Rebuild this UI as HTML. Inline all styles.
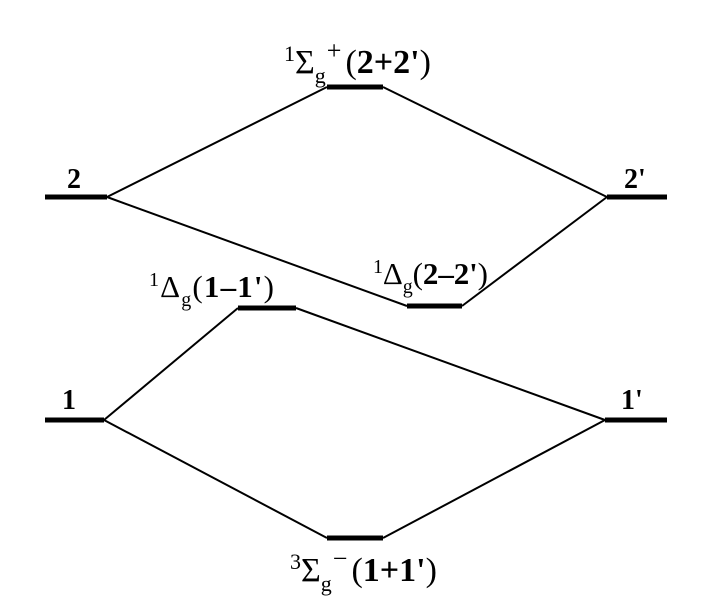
<!DOCTYPE html>
<html><head><meta charset="utf-8"><style>
html,body{margin:0;padding:0;background:#fff;}
svg{display:block;}
text{font-family:"Liberation Serif",serif;font-size:28px;fill:#000;}
.l{font-size:31px;}
.L{font-size:34px;}
.b{font-weight:bold;}
.s{font-size:20px;}
.S{font-size:22px;}
.P{font-size:26px;}
</style></head><body>
<svg width="712" height="613" viewBox="0 0 712 613" xmlns="http://www.w3.org/2000/svg">
<g stroke="#000" stroke-width="2" fill="none">
<line x1="107" y1="197" x2="327" y2="87"/>
<line x1="383" y1="87" x2="607" y2="197"/>
<line x1="107" y1="197" x2="407" y2="306"/>
<line x1="462" y1="306" x2="607" y2="197"/>
<line x1="104" y1="420" x2="238" y2="308"/>
<line x1="296" y1="308" x2="605" y2="420"/>
<line x1="104" y1="420" x2="327" y2="538"/>
<line x1="383" y1="538" x2="605" y2="420"/>
</g>
<g stroke="#000" stroke-width="5">
<line x1="45" y1="197" x2="107" y2="197"/>
<line x1="607" y1="197" x2="667" y2="197"/>
<line x1="327" y1="87" x2="383" y2="87"/>
<line x1="407" y1="306" x2="462" y2="306"/>
<line x1="238" y1="308" x2="296" y2="308"/>
<line x1="45" y1="420" x2="104" y2="420"/>
<line x1="605" y1="420" x2="667" y2="420"/>
<line x1="327" y1="538" x2="383" y2="538"/>
</g>
<text class="b" x="67" y="188">2</text>
<text class="b" x="624" y="188">2'</text>
<text class="b" x="62" y="409">1</text>
<text class="b" x="621" y="409">1'</text>
<text class="L" x="284" y="73"><tspan class="S" dy="-12">1</tspan><tspan dy="12">Σ</tspan><tspan class="S" dy="10">g</tspan><tspan class="P" dy="-24" dx="1">+</tspan><tspan dy="14" dx="4">(</tspan><tspan class="b">2+2'</tspan>)</text>
<text class="l" x="149" y="297" textLength="125" lengthAdjust="spacing"><tspan class="s" dy="-11">1</tspan><tspan dy="11">Δ</tspan><tspan class="s" dy="9">g</tspan><tspan dy="-9">(</tspan><tspan class="b">1–1'</tspan>)</text>
<text class="l" x="373" y="284" textLength="115" lengthAdjust="spacing"><tspan class="s" dy="-11">1</tspan><tspan dy="11">Δ</tspan><tspan class="s" dy="9">g</tspan><tspan dy="-9">(</tspan><tspan class="b">2–2'</tspan>)</text>
<text class="L" x="290" y="581"><tspan class="S" dy="-12">3</tspan><tspan dy="12">Σ</tspan><tspan class="S" dy="10">g</tspan><tspan class="P" dy="-24" dx="1">−</tspan><tspan dy="14" dx="4">(</tspan><tspan class="b">1+1'</tspan>)</text>
</svg>
</body></html>
